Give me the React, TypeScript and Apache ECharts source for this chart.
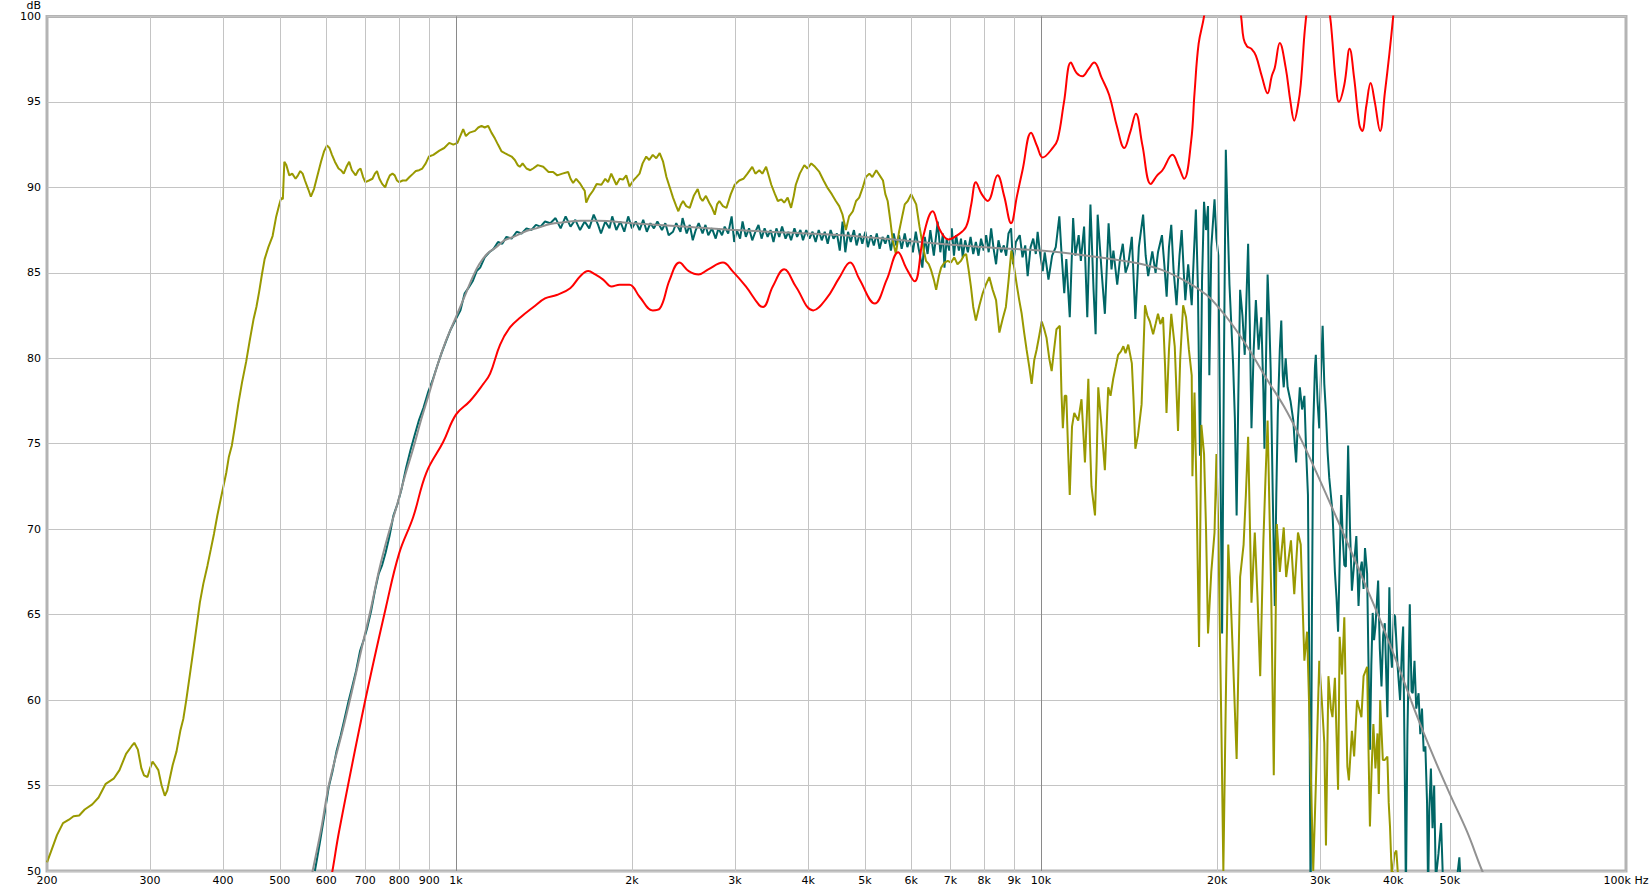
import React, { useEffect, useRef } from "react";
import * as echarts from "echarts";

const FONT = "DejaVu Sans";

// x tick labels (Hz) and their positions
const xLabelValues = [200, 300, 400, 500, 600, 700, 800, 900, 1000, 2000, 3000, 4000, 5000, 6000, 7000, 8000, 9000, 10000, 20000, 30000, 40000, 50000, 100000];
const xLabelTexts = ["200", "300", "400", "500", "600", "700", "800", "900", "1k", "2k", "3k", "4k", "5k", "6k", "7k", "8k", "9k", "10k", "20k", "30k", "40k", "50k", "100k Hz"];
const xDarkLines = [1000, 10000];
const xEdgeLines = [200, 100000];

// green-yellow (olive) trace [Hz, dB]
const olivePoints: number[][] = [
  [200, 50.5], [203, 51.1], [208, 52.1], [213, 52.8], [218, 53.0], [222, 53.2], [227, 53.25], [232, 53.6], [239, 53.9], [245, 54.3],
  [252, 55.1], [260, 55.4], [266, 55.9], [273, 56.85], [279, 57.3], [282, 57.5], [286, 57.1], [290, 56.0], [293, 55.6], [297, 55.5],
  [300, 56.0], [303, 56.4], [306, 56.2], [310, 55.9], [314, 55.0], [318, 54.4], [321, 54.7], [324, 55.35], [328, 56.2], [333, 57.0],
  [338, 58.2], [342, 58.9], [346, 60.0], [351, 61.5], [356, 63.0], [361, 64.5], [365, 65.7], [370, 66.8], [376, 67.85], [381, 68.8],
  [386, 69.75], [391, 70.8], [397, 71.9], [401, 72.6], [405, 73.3], [409, 74.2], [414, 74.9], [419, 76.0], [425, 77.4], [431, 78.6],
  [438, 79.8], [444, 81.0], [451, 82.3], [456, 83.0], [461, 83.9], [466, 84.9], [471, 85.8], [478, 86.5], [486, 87.15], [493, 88.3],
  [499, 89.0], [503, 89.4], [506, 89.3], [509, 91.5], [513, 91.3], [519, 90.7], [525, 90.8], [532, 90.5], [537, 90.7], [542, 90.95],
  [547, 90.8], [552, 90.4], [559, 89.9], [565, 89.45], [572, 89.9], [580, 90.7], [588, 91.5], [595, 92.1], [602, 92.45], [608, 92.3],
  [614, 91.9], [621, 91.5], [630, 91.1], [636, 91.0], [643, 90.8], [650, 91.2], [657, 91.5], [664, 91.0], [674, 90.7], [681, 91.0],
  [687, 91.1], [694, 90.6], [700, 90.3], [710, 90.4], [720, 90.5], [727, 90.8], [733, 90.95], [740, 90.5], [748, 90.2], [757, 90.0],
  [764, 90.4], [771, 90.7], [779, 90.8], [786, 90.7], [793, 90.4], [800, 90.3], [811, 90.4], [822, 90.4], [833, 90.6], [845, 90.8],
  [854, 90.95], [865, 91.0], [876, 91.1], [888, 91.4], [899, 91.8], [915, 91.9], [937, 92.15], [955, 92.3], [974, 92.6], [990, 92.5],
  [1006, 92.6], [1029, 93.4], [1040, 93.0], [1055, 93.2], [1078, 93.3], [1092, 93.5], [1106, 93.6], [1120, 93.5], [1135, 93.6], [1150, 93.2],
  [1166, 92.85], [1180, 92.5], [1197, 92.1], [1212, 92.0], [1228, 91.9], [1245, 91.8], [1261, 91.6], [1275, 91.3], [1286, 91.2], [1300, 91.4],
  [1320, 91.1], [1340, 91.0], [1355, 91.1], [1380, 91.3], [1410, 91.2], [1440, 90.9], [1466, 90.9], [1490, 90.7], [1520, 90.8], [1555, 90.9],
  [1570, 90.5], [1586, 90.25], [1605, 90.5], [1628, 90.25], [1645, 90.0], [1660, 89.8], [1670, 89.1], [1690, 89.5], [1715, 89.8], [1740, 90.2],
  [1773, 90.15], [1800, 90.5], [1820, 90.3], [1843, 90.8], [1860, 90.5], [1880, 90.15], [1905, 90.5], [1930, 90.45], [1955, 90.7], [1980, 90.05],
  [2010, 90.4], [2035, 90.6], [2060, 90.8], [2085, 91.4], [2115, 91.8], [2140, 91.6], [2170, 91.9], [2200, 91.7], [2230, 92.0], [2260, 91.5],
  [2290, 90.6], [2320, 90.0], [2350, 89.4], [2380, 88.9], [2400, 88.6], [2425, 89.0], [2445, 89.2], [2475, 88.9], [2510, 88.8], [2550, 89.5],
  [2590, 89.9], [2615, 89.4], [2640, 89.2], [2675, 89.5], [2710, 89.1], [2740, 88.8], [2770, 88.4], [2795, 89.0], [2820, 89.2], [2860, 88.9],
  [2900, 88.8], [2950, 89.6], [2996, 90.15], [3050, 90.4], [3100, 90.5], [3150, 90.8], [3210, 91.2], [3250, 90.8], [3300, 91.0], [3340, 90.8],
  [3390, 91.2], [3430, 90.6], [3460, 90.15], [3510, 89.6], [3550, 89.2], [3600, 89.3], [3640, 89.1], [3690, 89.4], [3740, 88.8], [3780, 89.5],
  [3810, 90.15], [3870, 90.8], [3940, 91.3], [3990, 91.1], [4050, 91.4], [4110, 91.2], [4180, 90.9], [4250, 90.4], [4320, 89.95], [4390, 89.6],
  [4460, 89.2], [4520, 88.9], [4580, 88.4], [4640, 87.5], [4700, 88.3], [4770, 88.6], [4830, 89.2], [4890, 89.4], [4960, 90.0], [5020, 90.6],
  [5090, 90.8], [5150, 90.6], [5230, 91.0], [5300, 90.7], [5370, 90.4], [5420, 89.6], [5470, 89.2], [5530, 88.0], [5580, 86.9], [5650, 86.1],
  [5720, 87.4], [5800, 88.4], [5850, 89.0], [5920, 89.2], [6000, 89.6], [6060, 89.3], [6120, 89.0], [6200, 87.7], [6280, 86.6], [6360, 85.7],
  [6430, 85.5], [6490, 85.15], [6560, 84.6], [6620, 84.0], [6690, 84.8], [6750, 85.3], [6840, 85.6], [6930, 85.7], [7020, 85.6], [7110, 85.9],
  [7200, 85.5], [7300, 85.7], [7380, 86.0], [7450, 86.1], [7520, 85.2], [7590, 84.2], [7660, 83.0], [7740, 82.2], [7850, 83.1], [7950, 83.8],
  [8050, 84.3], [8160, 84.75], [8270, 84.0], [8380, 83.4], [8490, 81.5], [8600, 82.3], [8710, 83.0], [8800, 84.5], [8900, 86.3], [9000, 85.3],
  [9090, 84.3], [9180, 83.4], [9270, 82.6], [9360, 81.5], [9450, 80.5], [9550, 79.5], [9640, 78.5], [9740, 79.9], [9830, 80.5], [9930, 81.3],
  [10030, 82.15], [10130, 81.7], [10220, 81.2], [10330, 80.0], [10430, 79.25], [10530, 80.5], [10630, 81.7], [10770, 81.9], [10840, 78.0], [10900, 75.9],
  [10980, 77.8], [11050, 77.8], [11130, 74.5], [11200, 72.0], [11300, 76.0], [11400, 76.8], [11580, 76.35], [11730, 77.6], [11890, 73.9], [12050, 78.8],
  [12130, 75.0], [12200, 72.5], [12370, 70.8], [12450, 74.0], [12530, 78.3], [12700, 75.9], [12860, 73.45], [12950, 76.0], [13030, 78.3], [13150, 77.8],
  [13290, 78.8], [13420, 79.5], [13550, 80.2], [13700, 80.4], [13830, 80.7], [13950, 80.3], [14100, 80.8], [14300, 79.7], [14400, 77.5], [14500, 74.7],
  [14650, 75.5], [14860, 77.3], [15060, 83.1], [15200, 82.5], [15350, 82.15], [15550, 81.4], [15700, 82.0], [15850, 82.6], [16000, 82.0], [16170, 82.4],
  [16300, 79.5], [16390, 76.8], [16550, 80.5], [16700, 82.6], [16930, 80.7], [17050, 78.0], [17150, 75.75], [17300, 80.0], [17500, 83.1], [17700, 82.4],
  [17900, 80.5], [18100, 79.0], [18150, 73.1], [18300, 78.0], [18450, 72.0], [18630, 63.1], [18800, 76.1], [19000, 74.4], [19150, 70.0], [19300, 63.9],
  [19550, 67.5], [19800, 69.8], [19950, 74.4], [20100, 70.0], [20200, 65.0], [20350, 58.0], [20500, 50.0], [20700, 60.0], [20900, 69.1], [21100, 66.0],
  [21300, 62.3], [21600, 56.55], [21900, 67.2], [22200, 69.1], [22400, 72.0], [22600, 75.4], [22900, 65.7], [23200, 69.8], [23450, 66.0], [23700, 61.4],
  [24000, 69.35], [24200, 73.0], [24400, 76.35], [24750, 66.2], [25000, 55.6], [25300, 70.3], [25600, 67.5], [26000, 70.1], [26250, 67.2], [26750, 69.35],
  [27100, 66.2], [27500, 69.8], [27800, 69.1], [28200, 62.3], [28500, 64.0], [28750, 59.4], [29200, 50.0], [29500, 55.0], [29900, 62.3], [30200, 60.0],
  [30500, 57.5], [30700, 51.5], [31000, 61.4], [31300, 59.5], [31500, 59.0], [31800, 61.3], [32000, 58.0], [32200, 54.75], [32400, 63.7], [32700, 61.5],
  [33000, 64.85], [33200, 60.0], [33400, 56.1], [33600, 55.3], [34000, 58.2], [34300, 56.7], [34700, 60.0], [35300, 59.0], [35600, 61.4], [36100, 61.95],
  [36300, 57.0], [36500, 52.6], [36750, 56.0], [37000, 58.6], [37300, 56.0], [37600, 58.05], [37800, 54.5], [38000, 60.0], [38400, 56.5], [38700, 56.5],
  [39100, 56.7], [39300, 54.0], [39500, 52.6], [39800, 49.5], [40200, 51.0], [40500, 51.2], [40900, 49.0]
];

// dark teal trace [Hz, dB]
const tealPoints: number[][] = [
  [574, 50.0], [585, 51.6], [596, 53.3], [606, 54.9], [615, 55.8], [625, 57.0], [635, 57.9], [645, 58.9], [655, 59.9], [665, 60.8],
  [675, 61.7], [686, 62.9], [697, 63.6], [705, 64.2], [716, 65.2], [727, 66.4], [738, 67.4], [748, 67.9], [758, 68.6], [770, 69.6],
  [782, 70.8], [795, 71.5], [808, 72.4], [822, 73.6], [836, 74.6], [850, 75.5], [865, 76.4], [880, 77.1], [896, 78.0], [912, 78.7],
  [928, 79.5], [945, 80.3], [962, 81.0], [980, 81.7], [1000, 82.3], [1018, 82.8], [1035, 83.8], [1050, 84.1], [1068, 84.5], [1085, 85.1],
  [1100, 85.3], [1120, 85.9], [1140, 86.2], [1160, 86.4], [1180, 86.8], [1200, 86.7], [1220, 87.1], [1245, 87.0], [1270, 87.4], [1295, 87.3],
  [1320, 87.6], [1345, 87.5], [1370, 87.8], [1395, 87.7], [1420, 88.0], [1450, 87.9], [1480, 88.2], [1510, 87.6], [1540, 88.3], [1570, 87.7],
  [1600, 88.1], [1630, 87.5], [1660, 88.0], [1690, 87.6], [1720, 88.4], [1750, 87.8], [1770, 87.3], [1800, 88.0], [1830, 87.6], [1850, 88.3],
  [1880, 87.5], [1910, 88.0], [1940, 87.4], [1970, 88.3], [2000, 87.6], [2030, 88.0], [2060, 87.5], [2090, 88.1], [2120, 87.4], [2150, 87.9],
  [2180, 87.6], [2210, 88.0], [2250, 87.5], [2280, 87.9], [2310, 87.2], [2350, 87.4], [2380, 87.9], [2420, 87.4], [2440, 88.2], [2480, 87.3],
  [2510, 87.8], [2540, 86.9], [2570, 87.5], [2600, 87.9], [2640, 87.3], [2670, 87.8], [2700, 87.2], [2740, 87.6], [2780, 87.0], [2810, 87.6],
  [2850, 87.2], [2880, 87.7], [2920, 87.3], [2960, 88.3], [2990, 86.8], [3020, 87.5], [3060, 87.0], [3090, 88.0], [3130, 87.1], [3170, 87.6],
  [3210, 86.9], [3250, 87.4], [3290, 87.8], [3330, 87.0], [3370, 87.6], [3410, 87.1], [3450, 87.5], [3490, 86.8], [3530, 87.6], [3570, 87.1],
  [3610, 87.7], [3660, 87.0], [3700, 87.4], [3740, 86.9], [3790, 87.6], [3830, 87.1], [3880, 87.5], [3920, 86.9], [3970, 87.5], [4020, 87.0],
  [4070, 87.4], [4120, 86.8], [4170, 87.5], [4220, 86.9], [4270, 87.4], [4320, 86.7], [4370, 87.5], [4420, 87.0], [4480, 87.3], [4530, 86.3],
  [4580, 88.0], [4630, 86.2], [4680, 87.4], [4730, 86.8], [4790, 87.5], [4840, 86.6], [4900, 87.3], [4950, 86.7], [5010, 87.4], [5060, 86.5],
  [5120, 87.2], [5180, 86.6], [5240, 87.3], [5300, 86.4], [5360, 87.1], [5420, 86.7], [5480, 87.2], [5540, 86.3], [5600, 87.3], [5660, 86.6],
  [5720, 87.2], [5780, 86.4], [5850, 87.3], [5910, 86.5], [5980, 87.0], [6040, 86.2], [6110, 87.4], [6180, 86.4], [6270, 85.3], [6330, 87.1],
  [6400, 86.1], [6470, 87.5], [6560, 86.0], [6660, 88.0], [6730, 86.2], [6800, 87.3], [6840, 85.3], [6900, 87.0], [6970, 86.3], [7040, 87.6],
  [7100, 86.0], [7160, 87.2], [7240, 86.3], [7300, 87.0], [7350, 85.9], [7420, 86.9], [7500, 86.2], [7580, 87.1], [7660, 86.1], [7740, 86.8],
  [7820, 86.0], [7900, 87.0], [7980, 86.3], [8060, 87.2], [8140, 86.2], [8220, 87.6], [8300, 86.4], [8380, 85.5], [8460, 86.9], [8550, 86.2],
  [8640, 86.6], [8720, 86.0], [8800, 87.3], [8890, 87.6], [8960, 85.5], [9060, 86.8], [9200, 87.2], [9300, 85.9], [9400, 86.6], [9490, 84.8],
  [9600, 86.5], [9700, 87.0], [9800, 86.1], [9870, 87.4], [9950, 86.3], [10070, 85.1], [10150, 86.2], [10300, 84.6], [10450, 86.0], [10600, 86.5],
  [10750, 88.3], [10850, 86.0], [10960, 83.8], [11050, 85.8], [11200, 82.4], [11350, 88.2], [11450, 86.0], [11600, 87.2], [11700, 85.7], [11850, 87.7],
  [12000, 82.4], [12150, 89.0], [12300, 84.0], [12400, 81.4], [12500, 88.4], [12700, 85.0], [12860, 82.6], [13050, 87.9], [13200, 85.2], [13300, 86.3],
  [13500, 84.3], [13650, 85.8], [13800, 86.7], [13950, 85.0], [14100, 85.5], [14300, 87.1], [14500, 82.3], [14700, 86.5], [14950, 88.4], [15100, 86.0],
  [15250, 84.8], [15500, 86.25], [15700, 85.0], [15850, 86.2], [16100, 87.2], [16250, 85.5], [16400, 83.6], [16550, 86.5], [16700, 87.8], [16850, 85.2],
  [17050, 83.1], [17250, 86.0], [17400, 87.5], [17550, 84.9], [17650, 83.4], [17850, 85.5], [18100, 83.1], [18250, 86.0], [18400, 88.7], [18550, 84.0],
  [18700, 74.3], [18850, 84.5], [19000, 89.15], [19150, 87.5], [19300, 88.9], [19400, 79.0], [19550, 86.5], [19800, 89.3], [19950, 87.0], [20100, 86.0],
  [20250, 75.0], [20400, 63.9], [20550, 80.0], [20700, 92.2], [20850, 88.0], [21000, 84.3], [21150, 82.0], [21300, 79.7], [21450, 76.5], [21600, 70.8],
  [21750, 78.0], [21900, 84.0], [22100, 82.5], [22300, 80.2], [22450, 83.5], [22600, 86.7], [22750, 82.0], [22900, 75.9], [23100, 80.5], [23300, 83.4],
  [23550, 80.5], [23800, 82.4], [24000, 78.0], [24100, 74.7], [24250, 80.0], [24400, 84.9], [24550, 82.5], [24700, 79.25], [24900, 72.0], [25100, 65.5],
  [25250, 72.0], [25400, 76.8], [25600, 80.5], [25750, 82.2], [25900, 79.0], [26000, 78.3], [26200, 80.0], [26400, 78.3], [26700, 77.5], [27000, 76.35],
  [27150, 75.0], [27300, 73.9], [27500, 76.5], [27700, 78.3], [27950, 77.0], [28200, 77.8], [28400, 74.5], [28600, 72.0], [28750, 62.0], [28900, 48.0],
  [29050, 65.0], [29200, 76.0], [29400, 79.5], [29500, 80.2], [29700, 77.5], [29900, 75.9], [30100, 79.0], [30300, 81.9], [30500, 78.5], [30700, 76.8],
  [30900, 74.5], [31100, 73.0], [31300, 72.0], [31500, 71.0], [31800, 67.5], [32000, 66.0], [32200, 64.0], [32400, 68.0], [32600, 72.0], [32800, 69.5],
  [33000, 67.9], [33200, 67.8], [33500, 74.9], [33750, 70.0], [34000, 66.4], [34300, 68.0], [34600, 69.6], [34900, 65.5], [35100, 67.5], [35350, 68.1],
  [35600, 66.5], [35800, 68.9], [36100, 67.4], [36300, 62.0], [36500, 57.1], [36700, 62.0], [36900, 65.1], [37100, 63.5], [37300, 64.3], [37700, 67.0],
  [37950, 63.0], [38200, 60.8], [38450, 63.8], [38700, 64.5], [39100, 59.0], [39400, 66.6], [39600, 63.0], [39800, 61.9], [40100, 65.0], [40300, 64.9],
  [40700, 62.0], [41100, 60.0], [41400, 63.0], [41600, 64.3], [41900, 54.6], [42050, 48.5], [42300, 58.0], [42700, 65.6], [43000, 60.5], [43200, 60.4],
  [43500, 62.3], [43800, 59.5], [44200, 60.4], [44500, 58.0], [44800, 59.5], [45100, 57.0], [45400, 57.3], [45700, 54.0], [45900, 48.5], [46100, 53.5],
  [46400, 56.0], [46700, 52.5], [47000, 55.0], [47300, 49.5], [47800, 51.0], [48300, 52.8], [48700, 49.0], [49500, 48.0], [51200, 49.0], [51900, 50.8],
  [52300, 48.5]
];

// grey smooth reference trace [Hz, dB]
const grayPoints: number[][] = [
  [555, 48.0], [569, 50.0], [588, 52.4], [608, 55.2], [640, 58.2], [665, 60.6], [694, 63.4], [715, 65.3], [739, 67.6], [765, 69.6],
  [793, 71.4], [818, 73.1], [845, 74.7], [872, 76.4], [901, 78.0], [930, 79.6], [961, 81.0], [1000, 82.4], [1043, 83.9], [1070, 84.8],
  [1096, 85.5], [1130, 86.1], [1172, 86.5], [1210, 86.9], [1254, 87.1], [1310, 87.4], [1372, 87.6], [1450, 87.85], [1530, 87.95], [1632, 88.05],
  [1750, 88.05], [2000, 87.9], [2480, 87.7], [3000, 87.5], [4000, 87.3], [5000, 87.1], [6000, 86.85], [8000, 86.5], [10000, 86.3], [12000, 86.0],
  [14400, 85.6], [16000, 85.2], [17700, 84.5], [19200, 83.7], [20200, 82.9], [21300, 81.9], [22700, 80.5], [24300, 78.8], [26000, 77.2], [27700, 75.4],
  [29500, 73.4], [31500, 71.2], [33600, 69.0], [36000, 66.6], [38400, 64.3], [41000, 61.8], [44000, 59.0], [47000, 56.6], [50000, 54.5], [53500, 52.3],
  [56800, 50.0], [60000, 48.2]
];

// red smooth trace [Hz, dB]
const redPoints: number[][] = [
  [600, 48.0], [615, 50.0], [632, 52.4], [699, 59.9], [760, 65.5], [800, 68.6], [845, 70.7], [890, 73.3], [951, 75.1], [1000, 76.7],
  [1057, 77.5], [1114, 78.5], [1144, 79.1], [1190, 80.8], [1237, 81.8], [1290, 82.4], [1357, 83.0], [1420, 83.5], [1487, 83.7], [1568, 84.1],
  [1631, 84.8], [1683, 85.1], [1730, 84.9], [1785, 84.6], [1845, 84.2], [1905, 84.3], [1980, 84.3], [2060, 83.6], [2170, 82.8], [2230, 82.9],
  [2320, 84.6], [2410, 85.6], [2500, 85.1], [2600, 84.9], [2700, 85.2], [2860, 85.6], [2970, 85.1], [3130, 84.2], [3300, 83.1], [3350, 83.0],
  [3480, 84.2], [3640, 85.2], [3810, 84.2], [4080, 82.8], [4300, 83.5], [4520, 84.7], [4720, 85.6], [4890, 84.65], [5200, 83.2], [5450, 84.6],
  [5700, 86.2], [5880, 85.3], [6080, 84.5], [6300, 87.2], [6530, 88.6], [6720, 87.5], [6950, 86.95], [7200, 87.2], [7450, 87.7], [7600, 89.0],
  [7740, 90.3], [7920, 89.6], [8110, 89.2], [8430, 90.7], [8650, 89.5], [8890, 87.9], [9100, 89.5], [9300, 91.0], [9620, 93.2], [9850, 92.4],
  [10070, 91.75], [10470, 92.3], [10680, 92.8], [10950, 95.0], [11250, 97.3], [11500, 96.7], [11780, 96.5], [12050, 96.9], [12330, 97.3], [12700, 96.4],
  [13080, 95.4], [13500, 93.5], [13880, 92.3], [14200, 93.2], [14530, 94.3], [14900, 92.5], [15410, 90.2], [15800, 90.7], [16130, 91.0], [16780, 91.9],
  [17200, 91.2], [17570, 90.5], [18060, 92.7], [18300, 95.5], [18600, 98.4], [19000, 100.0], [19500, 103.0], [20500, 105.0], [21500, 102.0], [21980, 100.0],
  [22200, 98.7], [22500, 98.25], [22900, 98.1], [23300, 97.7], [23850, 96.5], [24400, 95.5], [24800, 96.5], [25100, 97.0], [25600, 98.45], [26200, 97.0],
  [26700, 95.0], [27100, 93.9], [27500, 94.8], [27800, 96.0], [28200, 98.9], [28400, 100.0], [29000, 103.0], [30200, 103.0], [31200, 100.0], [31500, 98.5],
  [31900, 96.2], [32300, 95.0], [33000, 96.0], [33700, 98.1], [34300, 96.4], [35000, 93.7], [35400, 93.3], [36000, 94.8], [36600, 96.1], [37200, 95.0],
  [38000, 93.3], [38700, 95.5], [39400, 97.8], [40000, 100.0], [41000, 104.0]
];

const yMin = 50;
const yMax = 100;
const yStep = 5;

export default function App() {
  const ref = useRef<HTMLDivElement>(null);

  useEffect(() => {
    if (!ref.current) return;
    const chart = echarts.init(ref.current, null, { renderer: "svg" });

    const markData = xLabelValues.map((v, i) => {
      const edge = xEdgeLines.includes(v);
      const dark = xDarkLines.includes(v);
      return {
        xAxis: v,
        lineStyle: {
          color: edge ? "#b4b4b4" : dark ? "#8a8a8a" : "#c4c4c4",
          width: edge ? 0.5 : 1,
          type: "solid",
        },
        label: {
          show: true,
          formatter: xLabelTexts[i],
          position: "start",
          distance: 4,
          color: "#000",
          fontFamily: FONT,
          fontSize: 11,
        },
      };
    });

    const lineSeries = (name: string, data: number[][], color: string, z: number, smooth: number | boolean, width: number) => ({
      name,
      type: "line",
      data,
      showSymbol: false,
      symbol: "none",
      smooth,
      clip: true,
      silent: true,
      z,
      lineStyle: { color, width },
      emphasis: { disabled: true },
    });

    chart.setOption({
      animation: false,
      backgroundColor: "#ffffff",
      grid: {
        left: 47,
        right: 23,
        top: 14,
        bottom: 21,
        show: true,
        borderColor: "#b4b4b4",
        borderWidth: 3,
        backgroundColor: "#ffffff",
      },
      xAxis: {
        type: "log",
        logBase: 10,
        min: 200,
        max: 100000,
        axisLine: { show: false },
        axisTick: { show: false },
        axisLabel: { show: false },
        splitLine: { show: false },
      },
      yAxis: {
        type: "value",
        min: yMin,
        max: yMax,
        interval: yStep,
        name: "dB",
        nameLocation: "end",
        nameGap: 3,
        nameTextStyle: {
          color: "#000",
          fontFamily: FONT,
          fontSize: 11,
          align: "right",
          verticalAlign: "bottom",
          padding: [0, 6, 0, 0],
        },
        axisLine: { show: false },
        axisTick: { show: false },
        axisLabel: { color: "#000", fontFamily: FONT, fontSize: 11, margin: 6 },
        splitLine: { show: true, lineStyle: { color: "#c4c4c4", width: 1 } },
      },
      series: [
        {
          name: "grid",
          type: "line",
          data: [],
          silent: true,
          z: 1,
          markLine: {
            silent: true,
            symbol: ["none", "none"],
            animation: false,
            data: markData,
          },
        },
        lineSeries("teal", tealPoints, "#006666", 3, false, 2),
        lineSeries("olive", olivePoints, "#999900", 4, false, 2),
        lineSeries("grey", grayPoints, "#919191", 5, 0.4, 2),
        lineSeries("red", redPoints, "#ff0000", 6, 0.4, 2),
      ],
    });

    return () => chart.dispose();
  }, []);

  return (
    <div
      ref={ref}
      style={{ position: "fixed", left: 0, top: 0, width: 1649, height: 892, background: "#fff" }}
    />
  );
}
